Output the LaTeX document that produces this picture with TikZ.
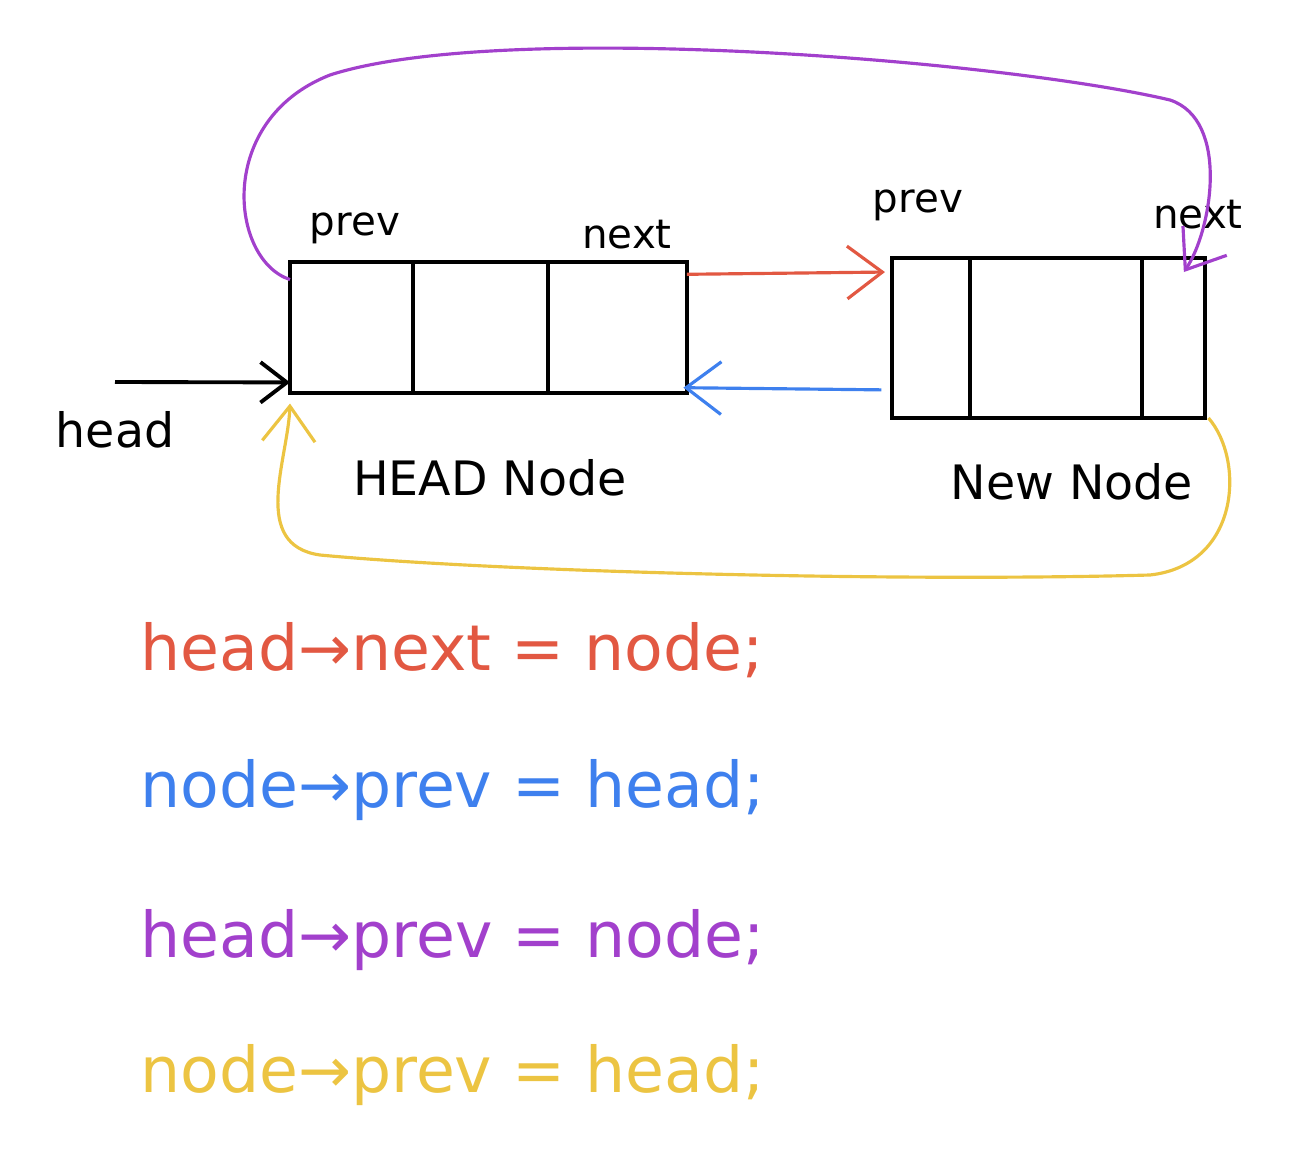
\documentclass[tikz,border=0pt]{standalone}
\usepackage{fontspec}
\setmainfont{DejaVu Sans}
\usetikzlibrary{positioning,arrows.meta}

\definecolor{redpen}{RGB}{226,88,66}
\definecolor{bluepen}{RGB}{62,128,238}
\definecolor{purppen}{RGB}{162,64,204}
\definecolor{yellpen}{RGB}{236,196,66}

\begin{document}
\begin{tikzpicture}[
    x=0.02cm, y=-0.02cm,
    cell/.style={rectangle, draw=black, line width=2.2pt, anchor=north west, inner sep=0pt, outer sep=0pt},
    lbl/.style={font=\fontsize{23}{26}\selectfont, inner sep=0pt},
    caption/.style={font=\fontsize{27}{30}\selectfont, inner sep=0pt},
    code/.style={font=\fontsize{36}{40}\selectfont, anchor=west, inner sep=0pt},
    pen/.style={line width=1.8pt, -{Straight Barb[length=20pt,width=30pt,line width=1.8pt]}},
    blackpen/.style={line width=2.2pt, -{Straight Barb[length=15pt,width=23pt,line width=2.2pt]}}
]
\useasboundingbox (0,0) rectangle (1309,1149);

% HEAD node
\node[cell, minimum width=2.46cm, minimum height=2.62cm] (hd1) at (290,262) {};
\node[cell, minimum width=2.7cm, minimum height=2.62cm] (hd2) at (hd1.north east) {};
\node[cell, minimum width=2.78cm, minimum height=2.62cm] (hd3) at (hd2.north east) {};

% New node
\node[cell, minimum width=1.56cm, minimum height=3.2cm] (nw1) at (892,258) {};
\node[cell, minimum width=3.44cm, minimum height=3.2cm] (nw2) at (nw1.north east) {};
\node[cell, minimum width=1.26cm, minimum height=3.2cm] (nw3) at (nw2.north east) {};

% Labels
\node[lbl] (hdprev) at (355,228) {prev};
\node[lbl] (hdnext) at (627,235) {next};
\node[lbl] (nwprev) at (918,205) {prev};
\node[lbl] (nwnext) at (1198,215) {next};
\node[caption] (headlbl) at (115,430) {head};
\node[caption] (hdname) at (490,478) {HEAD Node};
\node[caption] (nwname) at (1072,482) {New Node};
\coordinate (headtail) at (115,382);

% Arrows
\draw[blackpen] (headtail) -- ([yshift=6pt]hd1.south west);
\draw[pen, redpen] ([yshift=-7pt]hd3.north east) -- ([xshift=-4pt,yshift=-8pt]nw1.north west);
\draw[pen, bluepen] ([xshift=-6pt,yshift=16pt]nw1.south west) -- ([xshift=-2pt,yshift=3pt]hd3.south east);
\draw[pen, purppen] ([yshift=-10pt]hd1.north west)
    .. controls (230,260) and (215,120) .. (330,75)
    .. controls (500,20) and (1000,60) .. (1170,100)
    .. controls (1230,120) and (1212,230) .. ([xshift=-12pt,yshift=-8pt]nw3.north east);
\draw[pen, yellpen] ([xshift=2pt]nw3.south east)
    .. controls (1245,460) and (1240,565) .. (1150,575)
    .. controls (900,582) and (500,572) .. (320,555)
    .. controls (250,545) and (288,460) .. ([yshift=-6pt]hd1.south west);

% Code
\node[code, text=redpen] (line1) at (140,650) {head→next = node;};
\node[code, text=bluepen] (line2) at (140,790) {node→prev = head;};
\node[code, text=purppen] (line3) at (140,940) {head→prev = node;};
\node[code, text=yellpen] (line4) at (140,1075) {node→prev = head;};

\end{tikzpicture}
\end{document}
